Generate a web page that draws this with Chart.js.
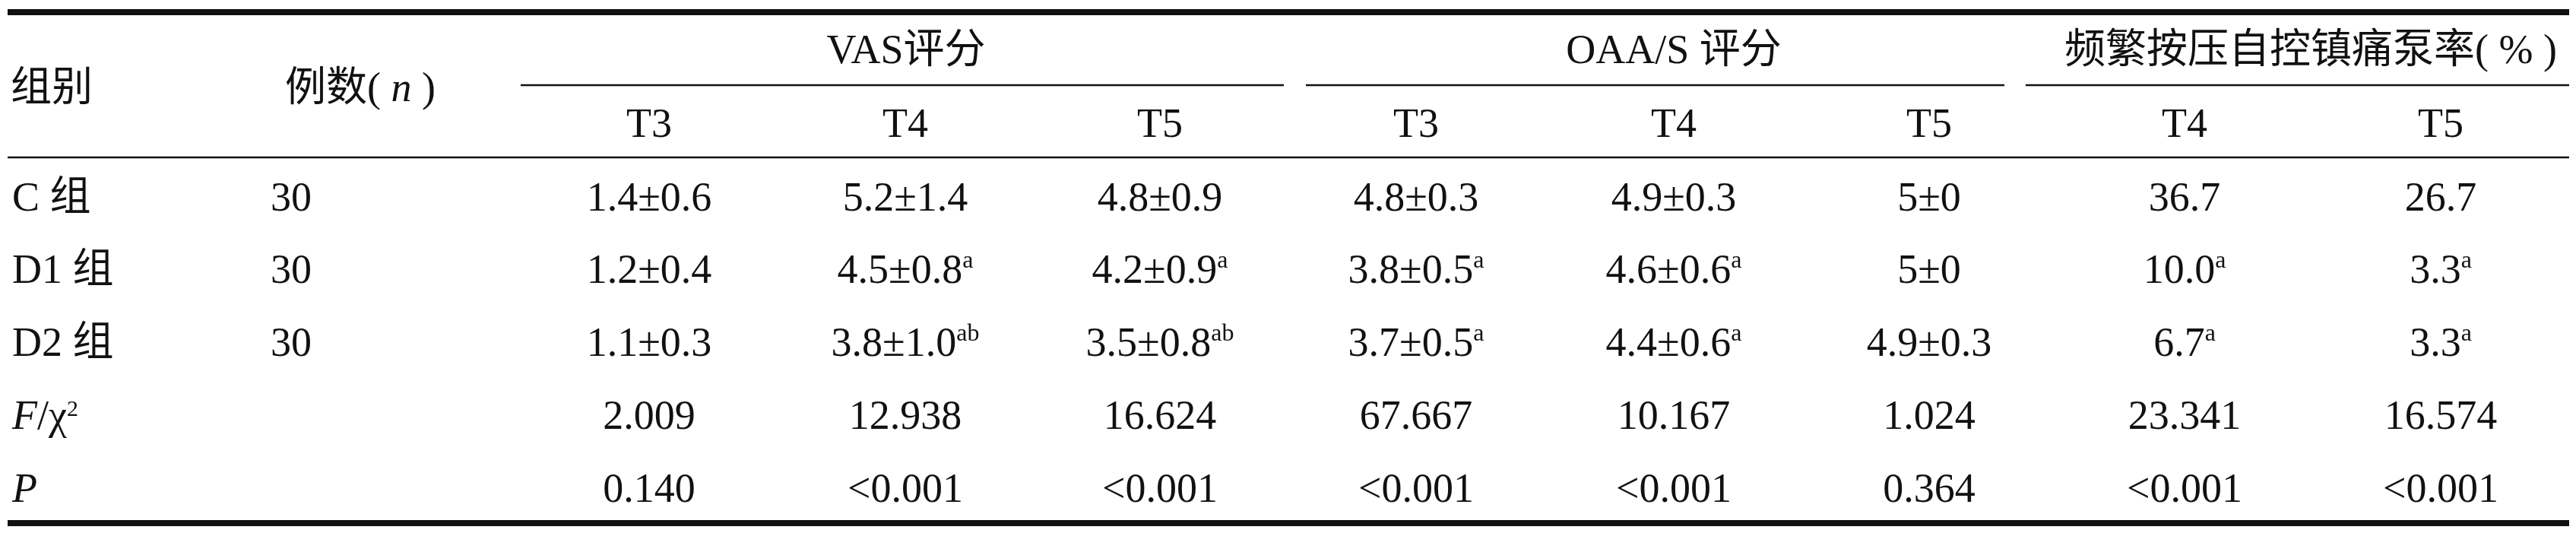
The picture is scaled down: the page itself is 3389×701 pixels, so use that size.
<!DOCTYPE html>
<html>
<head>
<meta charset="utf-8">
<script src="https://cdn.jsdelivr.net/npm/chart.js@4.4.1/dist/chart.umd.min.js"></script>
<style>
  html, body { margin: 0; padding: 0; background: #fff; }
  canvas { display: block; }
</style>
</head>
<body>
<canvas id="table" width="3389" height="701"></canvas>
<script>
// table values
const groups = ['C 组', 'D1 组', 'D2 组'];
const counts = ['30', '30', '30'];
const timeLabels = ['T3', 'T4', 'T5', 'T3', 'T4', 'T5', 'T4', 'T5'];

const vasT3 = ['1.4±0.6', '1.2±0.4', '1.1±0.3'];
const vasT4 = ['5.2±1.4', '4.5±0.8', '3.8±1.0'];
const vasT5 = ['4.8±0.9', '4.2±0.9', '3.5±0.8'];
const oaaT3 = ['4.8±0.3', '3.8±0.5', '3.7±0.5'];
const oaaT4 = ['4.9±0.3', '4.6±0.6', '4.4±0.6'];
const oaaT5 = ['5±0', '5±0', '4.9±0.3'];
const pcaT4 = ['36.7', '10.0', '6.7'];
const pcaT5 = ['26.7', '3.3', '3.3'];

// significance marks (a / ab)
const vasT3Sig = ['', '', ''];
const vasT4Sig = ['', 'a', 'ab'];
const vasT5Sig = ['', 'a', 'ab'];
const oaaT3Sig = ['', 'a', 'a'];
const oaaT4Sig = ['', 'a', 'a'];
const oaaT5Sig = ['', '', ''];
const pcaT4Sig = ['', 'a', 'a'];
const pcaT5Sig = ['', 'a', 'a'];

const fStats = ['2.009', '12.938', '16.624', '67.667', '10.167', '1.024', '23.341', '16.574'];
const pValues = ['0.140', '<0.001', '<0.001', '<0.001', '<0.001', '0.364', '<0.001', '<0.001'];

// layout (pixel units of the value scales)
const W = 3389, H = 701;
const colX = [854, 1191, 1526, 1863, 2202, 2538, 2874, 3211];
const groupX = [1192, 2202, 3040];
const leftX = 16, countX = 356, headCountX = 375;
const rowBase = [277, 372, 468, 564, 660];
const headBase1 = 83, headBase2 = 180, headMid = 133;
const FS = 54, SUP = 32, SUP2 = 30;
const FAM = '"Liberation Serif", "Times New Roman", "Noto Sans CJK SC", serif';
const INK = '#111111';

const rules = [
  { y: 16, x0: 10, x1: 3380, w: 8 },
  { y: 112, x0: 685, x1: 1689, w: 2.5 },
  { y: 112, x0: 1718, x1: 2637, w: 2.5 },
  { y: 112, x0: 2665, x1: 3380, w: 2.5 },
  { y: 207, x0: 10, x1: 3380, w: 2.5 },
  { y: 688, x0: 10, x1: 3380, w: 8 }
];

const valueCols = [vasT3, vasT4, vasT5, oaaT3, oaaT4, oaaT5, pcaT4, pcaT5];
const sigCols = [vasT3Sig, vasT4Sig, vasT5Sig, oaaT3Sig, oaaT4Sig, oaaT5Sig, pcaT4Sig, pcaT5Sig];

function fontFor(style) {
  if (style === 'i') return `italic ${FS}px ${FAM}`;
  if (style === 's') return `${SUP}px ${FAM}`;
  if (style === 'S') return `${SUP2}px ${FAM}`;
  return `${FS}px ${FAM}`;
}

function drawRich(ctx, segs, x, y, align) {
  let total = 0;
  segs.forEach(s => { ctx.font = fontFor(s[1]); total += ctx.measureText(s[0]).width; });
  let cx = align === 'center' ? x - total / 2 : x;
  segs.forEach(s => {
    ctx.font = fontFor(s[1]);
    let dy = 0;
    if (s[1] === 's') dy = -20;
    if (s[1] === 'S') dy = -17;
    ctx.fillText(s[0], cx, y + dy);
    cx += ctx.measureText(s[0]).width;
  });
}

const tableText = {
  id: 'tableText',
  afterDatasetsDraw(chart) {
    const ctx = chart.ctx;
    const sx = chart.scales.x, sy = chart.scales.y;
    const px = v => sx.getPixelForValue(v);
    const py = v => sy.getPixelForValue(v);
    ctx.save();
    ctx.fillStyle = INK;
    ctx.textBaseline = 'alphabetic';
    ctx.textAlign = 'left';

    // header
    drawRich(ctx, [['组别', 'n']], px(leftX - 2), py(headMid), 'left');
    drawRich(ctx, [['例数( ', 'n'], ['n', 'i'], [' )', 'n']], px(headCountX), py(headMid), 'left');
    drawRich(ctx, [['VAS评分', 'n']], px(groupX[0]), py(headBase1), 'center');
    drawRich(ctx, [['OAA/S 评分', 'n']], px(groupX[1]), py(headBase1), 'center');
    drawRich(ctx, [['频繁按压自控镇痛泵率( % )', 'n']], px(groupX[2]), py(headBase1), 'center');
    timeLabels.forEach((t, i) => drawRich(ctx, [[t, 'n']], px(colX[i]), py(headBase2), 'center'));

    // group rows
    groups.forEach((g, r) => {
      drawRich(ctx, [[g, 'n']], px(leftX), py(rowBase[r]), 'left');
      drawRich(ctx, [[counts[r], 'n']], px(countX), py(rowBase[r]), 'left');
      valueCols.forEach((col, c) => {
        const segs = [[col[r], 'n']];
        if (sigCols[c][r]) segs.push([sigCols[c][r], 's']);
        drawRich(ctx, segs, px(colX[c]), py(rowBase[r]), 'center');
      });
    });

    // statistics rows
    drawRich(ctx, [['F', 'i'], ['/χ', 'n'], ['2', 'S']], px(leftX), py(rowBase[3]), 'left');
    fStats.forEach((v, c) => drawRich(ctx, [[v, 'n']], px(colX[c]), py(rowBase[3]), 'center'));
    drawRich(ctx, [['P', 'i']], px(leftX), py(rowBase[4]), 'left');
    pValues.forEach((v, c) => drawRich(ctx, [[v, 'n']], px(colX[c]), py(rowBase[4]), 'center'));

    ctx.restore();
  }
};

const ruleSets = rules.map(r => ({
  type: 'line',
  data: [{ x: r.x0, y: r.y }, { x: r.x1, y: r.y }],
  borderColor: INK,
  borderWidth: r.w,
  borderCapStyle: 'butt',
  pointRadius: 0,
  showLine: true,
  fill: false
}));

new Chart(document.getElementById('table').getContext('2d'), {
  type: 'scatter',
  data: { datasets: ruleSets },
  options: {
    responsive: false,
    animation: false,
    devicePixelRatio: 1,
    layout: { padding: 0 },
    events: [],
    plugins: { legend: { display: false }, tooltip: { enabled: false } },
    scales: {
      x: { type: 'linear', display: false, min: 0, max: W },
      y: { type: 'linear', display: false, min: 0, max: H, reverse: true }
    }
  },
  plugins: [tableText]
});
</script>
</body>
</html>
